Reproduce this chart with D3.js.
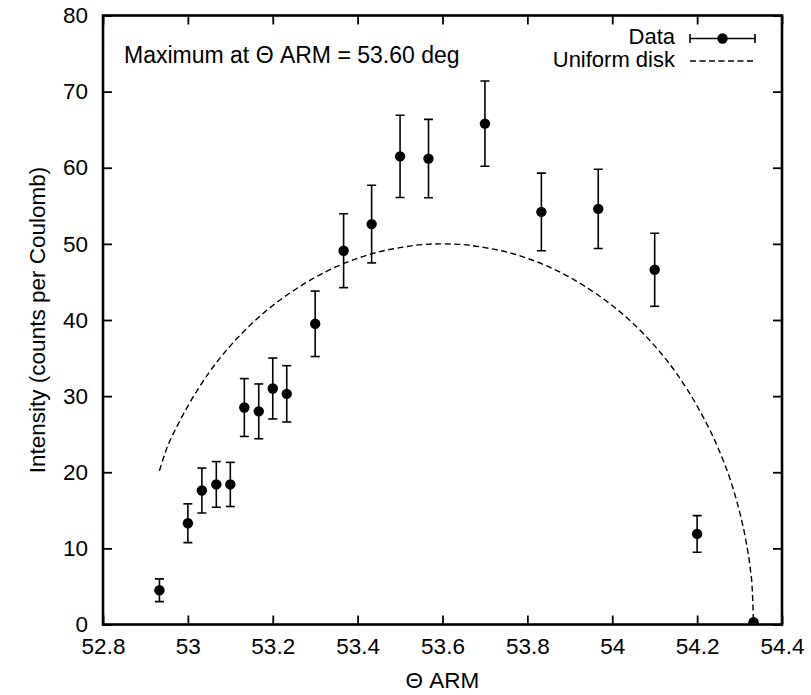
<!DOCTYPE html>
<html>
<head>
<meta charset="utf-8">
<script src="https://cdn.jsdelivr.net/npm/d3@7"></script>
<style>
  html, body { margin: 0; padding: 0; background: #fff; }
  svg text { font-family: "Liberation Sans", Arial, Helvetica, sans-serif; fill: #000; }
</style>
</head>
<body>
<svg id="chart" width="811" height="695"></svg>
<script>
// ---- data ----
const thetaArm  = [52.933, 53.0, 53.033, 53.067, 53.1, 53.133, 53.167, 53.2, 53.233, 53.3,
                   53.367, 53.433, 53.5, 53.567, 53.7, 53.833, 53.967, 54.1, 54.2, 54.333];
const intensity = [4.5, 13.3, 17.6, 18.4, 18.4, 28.5, 28.0, 31.0, 30.3, 39.5,
                   49.1, 52.6, 61.5, 61.2, 65.8, 54.2, 54.6, 46.6, 11.9, 0.3];
const errors    = [1.5, 2.55, 2.95, 3.0, 2.9, 3.8, 3.6, 4.0, 3.7, 4.3,
                   4.85, 5.1, 5.4, 5.15, 5.6, 5.1, 5.2, 4.8, 2.4, 0.3];

// uniform disk model curve
const diskTheta     = [52.933, 52.95, 52.975, 53.0, 53.05, 53.1, 53.15, 53.2, 53.25, 53.3,
                       53.35, 53.4, 53.45, 53.5, 53.55, 53.6, 53.65, 53.7, 53.75, 53.8,
                       53.85, 53.9, 53.95, 54.0, 54.05, 54.1, 54.15, 54.2, 54.25, 54.28,
                       54.3, 54.315, 54.325, 54.33, 54.333];
const diskIntensity = [20.2, 23.1, 26.1, 28.7, 33.1, 36.6, 39.5, 41.9, 43.9, 45.6,
                       47.0, 48.1, 48.95, 49.5, 49.9, 50.0, 49.9, 49.5, 48.95, 48.1,
                       47.0, 45.6, 43.9, 41.9, 39.5, 36.6, 33.1, 28.7, 23.1, 18.7,
                       14.8, 11.0, 7.4, 4.5, 0.0];

const xTicks = [52.8, 53, 53.2, 53.4, 53.6, 53.8, 54, 54.2, 54.4];
const yTicks = [0, 10, 20, 30, 40, 50, 60, 70, 80];
const xLabel = "Θ ARM";
const yLabel = "Intensity (counts per Coulomb)";
const title  = "Maximum at Θ ARM = 53.60 deg";
const legendLabels = ["Data", "Uniform disk"];

// ---- layout ----
const svg = d3.select("#chart");
const L = 103, R = 782, T = 15.5, B = 624.5;
const FS = 22.5;

const x = d3.scaleLinear().domain([52.8, 54.4]).range([L, R]);
const y = d3.scaleLinear().domain([0, 80]).range([B, T]);

svg.append("defs").append("clipPath").attr("id", "plotclip")
  .append("rect").attr("x", L).attr("y", T).attr("width", R - L).attr("height", B - T);

const fmt = d => String(+d.toFixed(1));

// axes: ticks inward on all four sides
const styleAxis = g => {
  g.select(".domain").remove();
  g.selectAll(".tick line").attr("stroke", "#000").attr("stroke-width", 1.8);
  g.selectAll(".tick text").attr("font-size", FS).attr("fill", "#000")
    .style("font-family", '"Liberation Sans", Arial, sans-serif');
};

svg.append("g").attr("transform", `translate(0,${B})`)
  .call(d3.axisBottom(x).tickValues(xTicks).tickFormat(fmt).tickSize(-9).tickPadding(14))
  .call(styleAxis);
svg.append("g").attr("transform", `translate(0,${T})`)
  .call(d3.axisTop(x).tickValues(xTicks).tickFormat("").tickSize(-9))
  .call(styleAxis);
svg.append("g").attr("transform", `translate(${L},0)`)
  .call(d3.axisLeft(y).tickValues(yTicks).tickFormat(fmt).tickSize(-9).tickPadding(15))
  .call(styleAxis);
svg.append("g").attr("transform", `translate(${R},0)`)
  .call(d3.axisRight(y).tickValues(yTicks).tickFormat("").tickSize(-9))
  .call(styleAxis);

// frame
svg.append("rect").attr("x", L).attr("y", T).attr("width", R - L).attr("height", B - T)
  .attr("fill", "none").attr("stroke", "#000").attr("stroke-width", 2.6);

// uniform disk curve
const plot = svg.append("g").attr("clip-path", "url(#plotclip)");
const line = d3.line().x(d => x(d[0])).y(d => y(d[1])).curve(d3.curveMonotoneX);
plot.append("path")
  .datum(diskTheta.map((t, i) => [t, diskIntensity[i]]))
  .attr("d", line)
  .attr("fill", "none").attr("stroke", "#000").attr("stroke-width", 1.4)
  .attr("stroke-dasharray", "6,3.5");

// data with error bars
const pts = thetaArm.map((t, i) => ({ t, v: intensity[i], e: errors[i] }));
const cap = 4.5;
const eb = plot.selectAll("g.pt").data(pts).enter().append("g").attr("class", "pt");
eb.append("line")
  .attr("x1", d => x(d.t)).attr("x2", d => x(d.t))
  .attr("y1", d => y(d.v - d.e)).attr("y2", d => y(d.v + d.e))
  .attr("stroke", "#000").attr("stroke-width", 1.6);
eb.append("line")
  .attr("x1", d => x(d.t) - cap).attr("x2", d => x(d.t) + cap)
  .attr("y1", d => y(d.v + d.e)).attr("y2", d => y(d.v + d.e))
  .attr("stroke", "#000").attr("stroke-width", 1.6);
eb.append("line")
  .attr("x1", d => x(d.t) - cap).attr("x2", d => x(d.t) + cap)
  .attr("y1", d => y(d.v - d.e)).attr("y2", d => y(d.v - d.e))
  .attr("stroke", "#000").attr("stroke-width", 1.6);
eb.append("circle")
  .attr("cx", d => x(d.t)).attr("cy", d => y(d.v)).attr("r", 5.2)
  .attr("fill", "#000");

// title inside plot
svg.append("text").attr("x", 124).attr("y", 63).attr("font-size", 23).text(title);

// legend
const lg = svg.append("g");
lg.append("text").attr("x", 675).attr("y", 44).attr("text-anchor", "end")
  .attr("font-size", 22).text(legendLabels[0]);
lg.append("text").attr("x", 675).attr("y", 67).attr("text-anchor", "end")
  .attr("font-size", 22).text(legendLabels[1]);
const ly1 = 38.5, lx0 = 690, lx1 = 755;
lg.append("line").attr("x1", lx0).attr("x2", lx1).attr("y1", ly1).attr("y2", ly1)
  .attr("stroke", "#000").attr("stroke-width", 1.6);
[lx0, lx1].forEach(xx => lg.append("line").attr("x1", xx).attr("x2", xx)
  .attr("y1", ly1 - 4.5).attr("y2", ly1 + 4.5).attr("stroke", "#000").attr("stroke-width", 1.6));
lg.append("circle").attr("cx", (lx0 + lx1) / 2).attr("cy", ly1).attr("r", 5.2).attr("fill", "#000");
lg.append("line").attr("x1", lx0).attr("x2", lx1).attr("y1", 61).attr("y2", 61)
  .attr("stroke", "#000").attr("stroke-width", 1.4).attr("stroke-dasharray", "6,3.5");

// axis titles
svg.append("text").attr("x", (L + R) / 2).attr("y", 688).attr("text-anchor", "middle")
  .attr("font-size", FS).text(xLabel);
svg.append("text")
  .attr("transform", `translate(45,${(T + B) / 2}) rotate(-90)`)
  .attr("text-anchor", "middle").attr("font-size", FS).text(yLabel);
</script>
</body>
</html>
